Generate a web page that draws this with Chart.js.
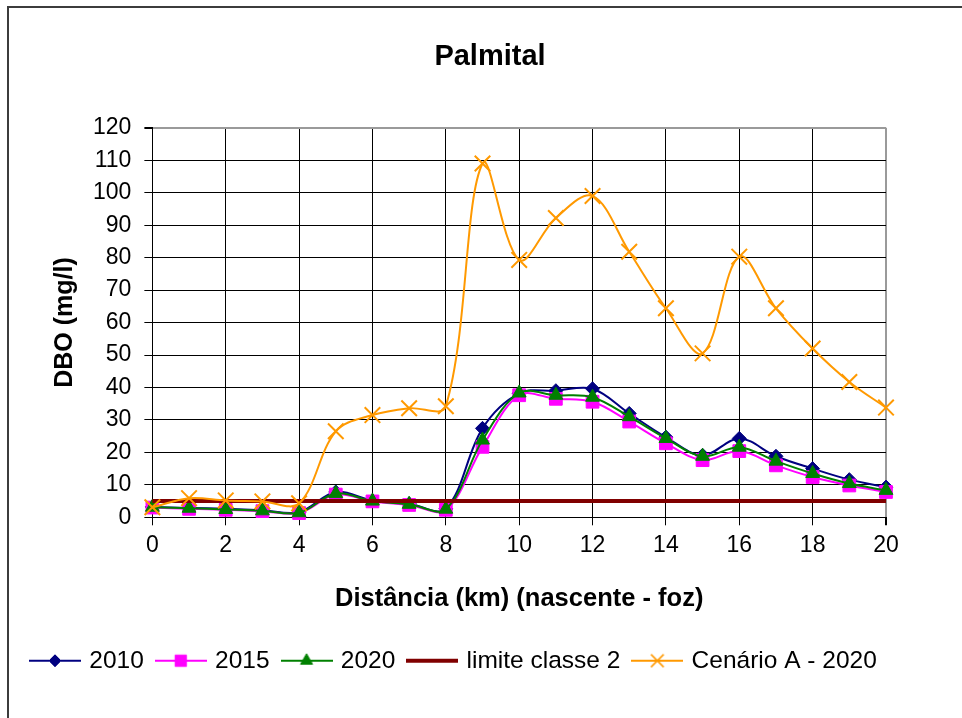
<!DOCTYPE html>
<html>
<head>
<meta charset="utf-8">
<title>Palmital</title>
<script src="https://cdn.jsdelivr.net/npm/chart.js@4.4.1/dist/chart.umd.min.js"></script>
<style>
  html, body { margin: 0; padding: 0; background: #fff; overflow: hidden; }
  #frame {
    position: absolute; left: 7px; top: 6px; width: 1000px; height: 800px;
    border-left: 2px solid #3c3c3c; border-top: 2px solid #3c3c3c;
  }
  #wrap { position: absolute; left: 0; top: 0; width: 962px; height: 718px; }
</style>
</head>
<body>
<div id="frame"></div>
<div id="wrap"><canvas id="dboChart"></canvas></div>
<script>
// distance from the source (km) and DBO (mg/l)
const km = [0, 1, 2, 3, 4, 5, 6, 7, 8, 9, 10, 11, 12, 13, 14, 15, 16, 17, 18, 19, 20];
const dbo2010 = [3.2, 2.9, 2.6, 2.2, 1.6, 7.8, 5.2, 4.2, 2.6, 27.4, 38.2, 39.0, 39.6, 32.0, 24.7, 19.1, 24.3, 18.8, 15.0, 11.6, 9.3];
const dbo2015 = [3.0, 2.6, 2.3, 1.9, 1.3, 7.0, 4.9, 3.8, 2.3, 21.7, 37.6, 36.5, 35.6, 29.5, 22.8, 17.6, 20.4, 16.0, 12.4, 9.8, 7.8];
const dbo2020 = [3.1, 2.8, 2.4, 2.0, 1.4, 7.3, 5.0, 4.0, 2.5, 23.8, 38.3, 37.6, 37.0, 31.0, 24.3, 18.8, 21.6, 17.3, 13.5, 10.4, 8.3];
const limiteClasse2 = [5, 5, 5, 5, 5, 5, 5, 5, 5, 5, 5, 5, 5, 5, 5, 5, 5, 5, 5, 5, 5];
const cenarioA2020 = [3.1, 5.9, 5.2, 4.9, 4.3, 26.5, 31.5, 33.6, 34.2, 109, 79.3, 92.2, 99, 81.8, 64.4, 50.5, 80.3, 64.4, 52, 41.7, 33.8];

const xTicks = [0, 2, 4, 6, 8, 10, 12, 14, 16, 18, 20];
const yTicks = [0, 10, 20, 30, 40, 50, 60, 70, 80, 90, 100, 110, 120];

Chart.defaults.font.family = '"Liberation Sans", Arial, sans-serif';
Chart.defaults.color = '#000';

function pts(values) {
  return km.map((k, i) => ({x: k, y: values[i]}));
}

// excel-like legend key: a short line with the marker in the middle
function legendIcon(color, lineWidth, style, radius) {
  const c = document.createElement('canvas');
  c.width = 52;
  c.height = 24;
  const g = c.getContext('2d');
  g.strokeStyle = color;
  g.lineWidth = lineWidth;
  g.beginPath();
  g.moveTo(0, 12);
  g.lineTo(52, 12);
  g.stroke();
  if (style) {
    g.fillStyle = color;
    g.strokeStyle = color;
    g.lineWidth = style === 'crossRot' ? 1.5 : 1;
    Chart.helpers.drawPoint(g, {pointStyle: style, radius: radius, rotation: 0, borderWidth: g.lineWidth}, 26, 12);
  }
  return c;
}

const icons = [
  legendIcon('#000080', 2, 'rectRot', 6),
  legendIcon('#FF00FF', 2, 'rect', 8),
  legendIcon('#008000', 2, 'triangle', 7),
  legendIcon('#800000', 4, null, 0),
  legendIcon('#FF9900', 2, 'crossRot', 9)
];

const datasets = [
  {
    label: '2010', data: pts(dbo2010), order: 5,
    borderColor: '#000080', backgroundColor: '#000080', borderWidth: 2,
    pointStyle: 'rectRot', pointRadius: 7, pointBorderWidth: 1
  },
  {
    label: '2015', data: pts(dbo2015), order: 4,
    borderColor: '#FF00FF', backgroundColor: '#FF00FF', borderWidth: 2,
    pointStyle: 'rect', pointRadius: 9, pointBorderWidth: 1
  },
  {
    label: '2020', data: pts(dbo2020), order: 3,
    borderColor: '#008000', backgroundColor: '#008000', borderWidth: 2,
    pointStyle: 'triangle', pointRadius: 8, pointBorderWidth: 1
  },
  {
    label: 'limite classe 2', data: pts(limiteClasse2), order: 2,
    borderColor: '#800000', backgroundColor: '#800000', borderWidth: 4,
    pointRadius: 0, tension: 0
  },
  {
    label: 'Cenário A - 2020', data: pts(cenarioA2020), order: 1,
    borderColor: '#FF9900', backgroundColor: '#FF9900', borderWidth: 2,
    pointStyle: 'crossRot', pointRadius: 11, pointBorderWidth: 2
  }
];

const config = {
  type: 'line',
  data: {datasets: datasets},
  options: {
    responsive: true,
    maintainAspectRatio: false,
    animation: false,
    layout: {padding: {left: 18, right: 0, top: 0, bottom: 35}},
    elements: {
      line: {tension: 0.35, fill: false},
      point: {hoverRadius: 0}
    },
    datasets: {line: {clip: false}},
    plugins: {
      tooltip: {enabled: false},
      title: {
        display: true,
        text: 'Palmital',
        font: {size: 29, weight: 'bold'},
        padding: {top: 40, bottom: 53}
      },
      legend: {
        position: 'bottom',
        align: 'start',
        labels: {
          usePointStyle: true,
          pointStyleWidth: 44,
          boxHeight: 24,
          padding: 15,
          font: {size: 24.5},
          color: '#000',
          generateLabels: chart => chart.data.datasets.map((ds, i) => ({
            text: ds.label,
            pointStyle: icons[i],
            datasetIndex: i,
            hidden: false,
            lineWidth: 0,
            strokeStyle: 'rgba(0,0,0,0)',
            fillStyle: 'rgba(0,0,0,0)'
          }))
        }
      }
    },
    scales: {
      x: {
        type: 'linear',
        min: 0,
        max: 20,
        afterBuildTicks: s => { s.ticks = xTicks.map(v => ({value: v})); },
        afterFit: s => { s.paddingRight = 76; },
        ticks: {font: {size: 23}, padding: 7, maxRotation: 0, callback: v => String(v)},
        grid: {
          color: c => (c.tick && c.tick.value === 20) ? '#9a9a9a' : '#000',
          lineWidth: c => (c.tick && c.tick.value === 20) ? 2 : 1,
          tickColor: '#000',
          tickLength: 8
        },
        border: {color: '#000', width: 1},
        title: {
          display: true,
          text: 'Distância (km) (nascente - foz)',
          font: {size: 25.5, weight: 'bold'},
          padding: {top: 17, bottom: 19}
        }
      },
      y: {
        min: 0,
        max: 120,
        afterBuildTicks: s => { s.ticks = yTicks.map(v => ({value: v})); },
        ticks: {font: {size: 23}, padding: 13, callback: v => String(v)},
        grid: {
          color: c => (c.tick && c.tick.value === 120) ? '#9a9a9a' : '#000',
          lineWidth: c => (c.tick && c.tick.value === 120) ? 2 : 1,
          tickColor: '#000',
          tickLength: 8
        },
        border: {color: '#000', width: 1},
        title: {
          display: true,
          text: 'DBO (mg/l)',
          font: {size: 25, weight: 'bold'},
          padding: {top: 32, bottom: 0}
        }
      }
    }
  }
};

const dboChart = new Chart(document.getElementById('dboChart'), config);
</script>
</body>
</html>
